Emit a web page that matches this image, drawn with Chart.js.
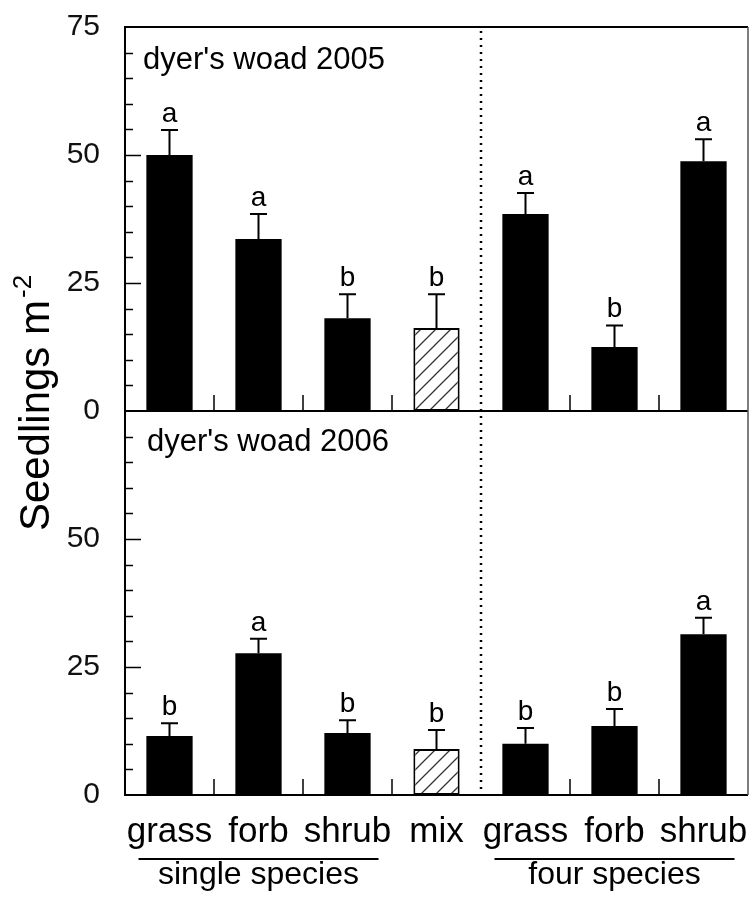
<!DOCTYPE html>
<html>
<head>
<meta charset="utf-8">
<script src="https://cdn.jsdelivr.net/npm/chart.js@4.4.1/dist/chart.umd.min.js"></script>
<style>
  html, body { margin: 0; padding: 0; background: #fff; }
  #wrap { width: 753px; height: 899px; }
</style>
</head>
<body>
<div id="wrap"><canvas id="seedlings" width="753" height="899"></canvas></div>
<script>
const categories = ["grass", "forb", "shrub", "mix", "grass", "forb", "shrub"];
const seedlings2005 = [50.0, 33.6, 18.1, 16.2, 38.5, 12.5, 48.8];
const stdErr2005 = [4.9, 4.9, 4.7, 6.6, 4.1, 4.2, 4.3];
const letters2005 = ["a", "a", "b", "b", "a", "b", "a"];
const seedlings2006 = [11.5, 27.7, 12.1, 9.0, 10.0, 13.5, 31.4];
const stdErr2006 = [2.5, 2.8, 2.5, 3.7, 3.1, 3.3, 3.2];
const letters2006 = ["b", "a", "b", "b", "b", "b", "a"];
const yTickLabels = [0, 25, 50, 75];
const panelTitles = ["dyer's woad 2005", "dyer's woad 2006"];
const groupLabels = ["single species", "four species"];
const groupFirst = [0, 4];
const groupLast = [2, 6];

const FONT = "'Liberation Sans', Arial, Helvetica, sans-serif";
Chart.defaults.font.family = FONT;
Chart.defaults.color = "#000";

// diagonal hatch for the "mix" bars
function makeHatch() {
  const s = 15;
  const c = document.createElement("canvas");
  c.width = s;
  c.height = s;
  const g = c.getContext("2d");
  g.fillStyle = "#fff";
  g.fillRect(0, 0, s, s);
  g.strokeStyle = "#333";
  g.lineWidth = 1.3;
  g.beginPath();
  g.moveTo(-1, s + 1);
  g.lineTo(s + 1, -1);
  g.moveTo(-s / 2, s / 2);
  g.lineTo(s / 2, -s / 2);
  g.moveTo(s / 2, s * 1.5);
  g.lineTo(s * 1.5, s / 2);
  g.stroke();
  return g.createPattern(c, "repeat");
}
const hatch = makeHatch();

function barFill() {
  return categories.map((c) => (c === "mix" ? hatch : "#000"));
}
function barBorder() {
  return categories.map((c) => (c === "mix" ? 2 : 0));
}

const yScale = (hideTop) => ({
  type: "linear",
  stack: "panels",
  position: "left",
  min: 0,
  max: 75,
  grid: { display: false, drawTicks: false },
  border: { display: false },
  ticks: {
    stepSize: 5,
    autoSkip: false,
    padding: 25,
    font: { size: 30 },
    color: "#111",
    callback: (v) => {
      if (!yTickLabels.includes(v)) return "";
      if (hideTop && v === 75) return "";
      return v;
    },
  },
  afterFit: (s) => {
    s.width = 125;
    s.paddingTop = 0;
    s.paddingBottom = 0;
  },
});

const panelDecor = {
  id: "panelDecor",
  afterDatasetsDraw(chart) {
    const ctx = chart.ctx;
    const x = chart.scales.x;
    const area = chart.chartArea;
    const panels = [
      { scale: chart.scales.yTop, means: seedlings2005, errs: stdErr2005, letters: letters2005, meta: chart.getDatasetMeta(0), title: panelTitles[0], tx: 18, ty: 42 },
      { scale: chart.scales.yBottom, means: seedlings2006, errs: stdErr2006, letters: letters2006, meta: chart.getDatasetMeta(1), title: panelTitles[1], tx: 22, ty: 40 },
    ];
    ctx.save();
    ctx.fillStyle = "#000";
    ctx.strokeStyle = "#000";

    // error bars and letters
    panels.forEach((p) => {
      p.means.forEach((m, i) => {
        const cx = p.meta.data[i].x;
        const yBar = p.scale.getPixelForValue(m);
        const yCap = p.scale.getPixelForValue(m + p.errs[i]);
        ctx.lineWidth = 2;
        ctx.beginPath();
        ctx.moveTo(cx, yBar);
        ctx.lineTo(cx, yCap);
        ctx.moveTo(cx - 8.5, yCap);
        ctx.lineTo(cx + 8.5, yCap);
        ctx.stroke();
        ctx.font = `28px ${FONT}`;
        ctx.textAlign = "center";
        ctx.textBaseline = "alphabetic";
        ctx.fillText(p.letters[i], cx, yCap - 8);
      });

      // inward y ticks
      ctx.lineWidth = 1.5;
      p.scale.ticks.forEach((t) => {
        if (t.value <= 0 || t.value >= 75) return;
        const py = Math.round(p.scale.getPixelForValue(t.value)) + 0.5;
        const len = yTickLabels.includes(t.value) ? 16 : 8;
        ctx.beginPath();
        ctx.moveTo(area.left, py);
        ctx.lineTo(area.left + len, py);
        ctx.stroke();
      });

      // x ticks between categories, pointing up from each panel base
      const base = p.scale.getPixelForValue(0);
      for (let i = 0; i < categories.length - 1; i++) {
        if (i === groupFirst[1] - 1) continue;
        const bx = (x.getPixelForValue(i) + x.getPixelForValue(i + 1)) / 2;
        ctx.beginPath();
        ctx.moveTo(bx, base);
        ctx.lineTo(bx, base - 16);
        ctx.stroke();
      }

      ctx.font = `31px ${FONT}`;
      ctx.textAlign = "left";
      ctx.fillText(p.title, area.left + p.tx, p.scale.top + p.ty);
    });

    // frame and panel divider
    ctx.lineWidth = 2;
    ctx.beginPath();
    ctx.moveTo(area.left, area.top);
    ctx.lineTo(area.left, area.bottom);
    ctx.moveTo(area.left - 1, area.top);
    ctx.lineTo(area.right, area.top);
    ctx.moveTo(area.left - 1, area.bottom);
    ctx.lineTo(area.right, area.bottom);
    const mid = chart.scales.yTop.getPixelForValue(0);
    ctx.moveTo(area.left, mid);
    ctx.lineTo(area.right, mid);
    ctx.stroke();
    ctx.strokeStyle = "#555";
    ctx.lineWidth = 1.5;
    ctx.beginPath();
    ctx.moveTo(area.right, area.top);
    ctx.lineTo(area.right, area.bottom);
    ctx.stroke();

    // dotted divider between single species / mix and four species
    const dx = (x.getPixelForValue(groupFirst[1] - 1) + x.getPixelForValue(groupFirst[1])) / 2;
    ctx.strokeStyle = "#000";
    ctx.lineWidth = 2.5;
    ctx.setLineDash([2, 5]);
    ctx.beginPath();
    ctx.moveTo(dx, area.top + 4);
    ctx.lineTo(dx, area.bottom);
    ctx.stroke();
    ctx.setLineDash([]);

    // group underlines and labels
    ctx.lineWidth = 2;
    ctx.font = `32px ${FONT}`;
    ctx.textAlign = "center";
    groupLabels.forEach((label, g) => {
      const x1 = x.getPixelForValue(groupFirst[g]) - 31;
      const x2 = x.getPixelForValue(groupLast[g]) + 31;
      ctx.beginPath();
      ctx.moveTo(x1, 859);
      ctx.lineTo(x2, 859);
      ctx.stroke();
      ctx.fillText(label, (x1 + x2) / 2, 884);
    });

    // y axis title with superscript
    ctx.translate(49, (area.top + area.bottom) / 2 - 8);
    ctx.rotate(-Math.PI / 2);
    ctx.textAlign = "left";
    ctx.font = `42px ${FONT}`;
    const main = "Seedlings m";
    const mw = ctx.measureText(main).width;
    ctx.font = `26px ${FONT}`;
    const sup = "-2";
    const sw = ctx.measureText(sup).width;
    const start = -(mw + sw + 2) / 2;
    ctx.font = `42px ${FONT}`;
    ctx.fillText(main, start, 0);
    ctx.font = `26px ${FONT}`;
    ctx.fillText(sup, start + mw + 2, -18);
    ctx.restore();
  },
};

new Chart(document.getElementById("seedlings"), {
  type: "bar",
  data: {
    labels: categories,
    datasets: [
      {
        label: "2005",
        data: seedlings2005,
        yAxisID: "yTop",
        backgroundColor: barFill(),
        borderColor: "#000",
        borderWidth: barBorder(),
        borderSkipped: false,
        barPercentage: 0.52,
        categoryPercentage: 1,
        grouped: false,
      },
      {
        label: "2006",
        data: seedlings2006,
        yAxisID: "yBottom",
        backgroundColor: barFill(),
        borderColor: "#000",
        borderWidth: barBorder(),
        borderSkipped: false,
        barPercentage: 0.52,
        categoryPercentage: 1,
        grouped: false,
      },
    ],
  },
  options: {
    responsive: false,
    animation: false,
    devicePixelRatio: 1,
    layout: { padding: { top: 27, right: 5, left: 0, bottom: 0 } },
    plugins: { legend: { display: false }, tooltip: { enabled: false } },
    scales: {
      x: {
        type: "category",
        offset: true,
        grid: { display: false, drawTicks: false },
        border: { display: false },
        ticks: { font: { size: 35 }, color: "#000", padding: 16, maxRotation: 0, autoSkip: false },
        afterFit: (s) => {
          s.height = 104;
          s.paddingLeft = 0;
          s.paddingRight = 0;
        },
      },
      yBottom: yScale(true),
      yTop: yScale(false),
    },
  },
  plugins: [panelDecor],
});
</script>
</body>
</html>
